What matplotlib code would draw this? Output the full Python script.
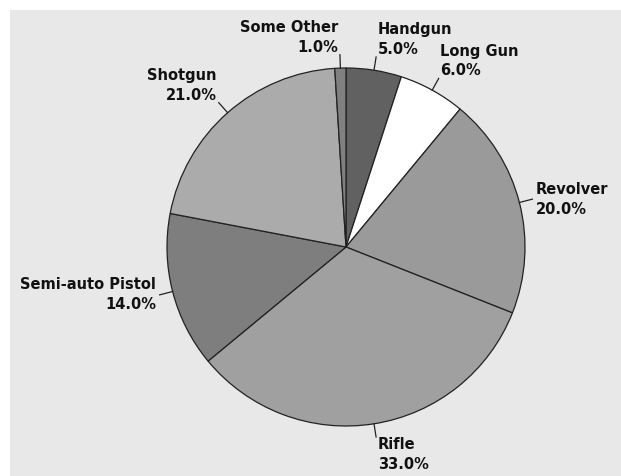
import numpy as np
import matplotlib
matplotlib.use("Agg")
import matplotlib.pyplot as plt
from matplotlib.patches import Rectangle

categories = ["Handgun", "Long Gun", "Revolver", "Rifle", "Semi-auto Pistol", "Shotgun", "Some Other"]
values = [5.0, 6.0, 20.0, 33.0, 14.0, 21.0, 1.0]
colors = ["#616161", "#ffffff", "#9a9a9a", "#a0a0a0", "#7e7e7e", "#ababab", "#808080"]

W, H = 621, 476
fig = plt.figure(figsize=(W / 100, H / 100), dpi=100)
fig.patch.set_facecolor("white")
fig.patches.append(Rectangle((10 / W, 0), 1 - 10 / W, (H - 10) / H, transform=fig.transFigure,
                             facecolor="#e8e8e8", edgecolor="none", zorder=-10))

ax = fig.add_axes([0, 0, 1, 1])
ax.patch.set_alpha(0)
wedges, _ = ax.pie(values, colors=colors, startangle=90, counterclock=False,
                   wedgeprops=dict(edgecolor="#222222", linewidth=0.9))

cx, cy, R = 346, 247, 179
ax.set_xlim(-cx / R, (W - cx) / R)
ax.set_ylim(-(H - cy) / R, cy / R)
ax.set_aspect("equal", adjustable="datalim")
ax.set_axis_off()

for w, cat, v in zip(wedges, categories, values):
    ang = np.deg2rad((w.theta1 + w.theta2) / 2)
    c, s = np.cos(ang), np.sin(ang)
    r0, r1 = 1.0, 1.075
    ax.plot([r0 * c, r1 * c], [r0 * s, r1 * s], color="#222222", lw=0.9)
    ha = "left" if c > 0 else "right"
    if s > 0.5:
        va = "bottom"
    elif s < -0.5:
        va = "top"
    else:
        va = "center"
    dx = 0.01 if c > 0 else -0.01
    tx = r1 * c + (dx if va != "center" else 2 * dx)
    ty = r1 * s
    ax.text(tx, ty, f"{cat}\n{v:.1f}%", ha=ha, va=va, multialignment=ha,
            fontsize=10.5, fontweight="bold", color="#111111", linespacing=1.4,
            family="DejaVu Sans")

fig.savefig("out.png", dpi=100)
